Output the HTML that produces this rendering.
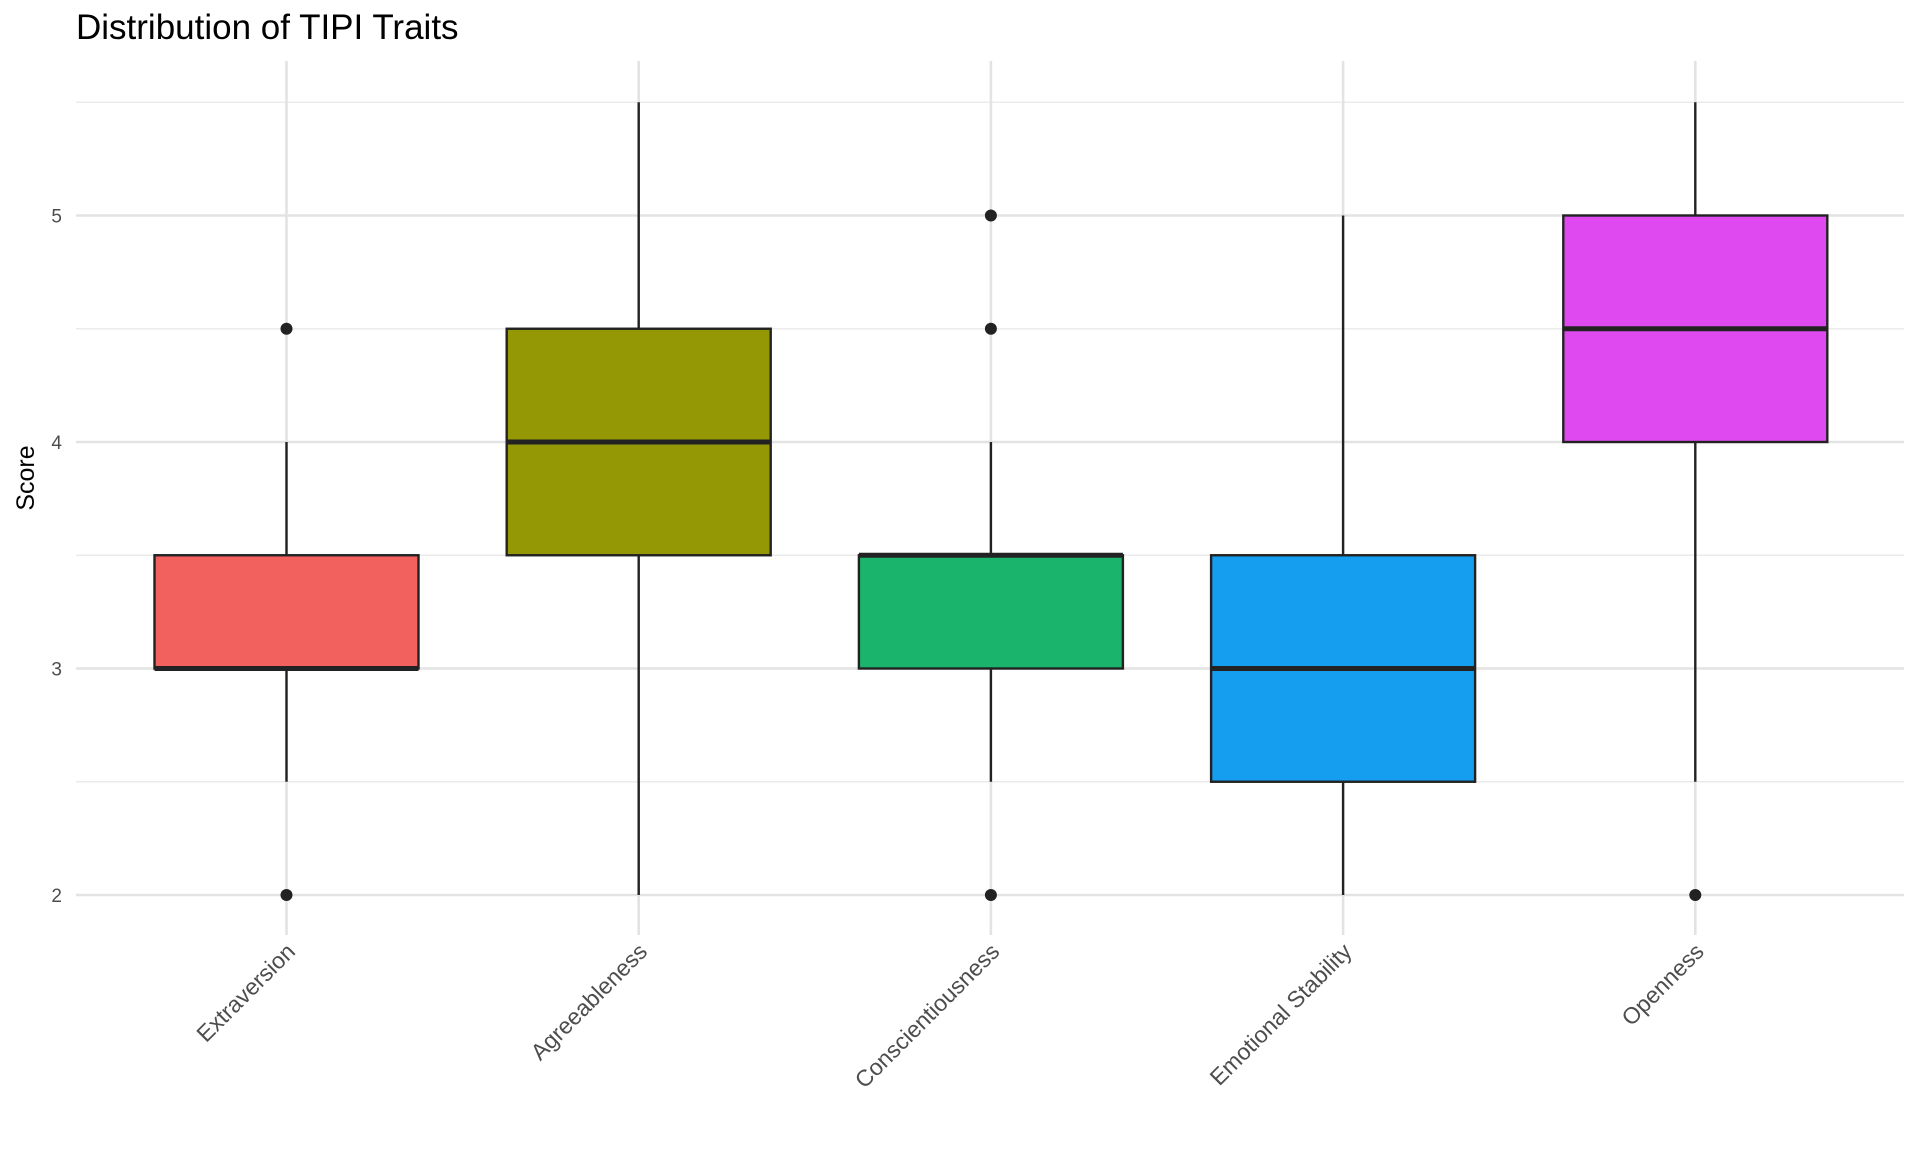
<!DOCTYPE html>
<html><head><meta charset="utf-8"><style>
body{margin:0;background:#fff;}
svg{display:block;font-family:"Liberation Sans",Arial,sans-serif;}
</style></head><body>
<svg id="chart" width="1920" height="1152" xmlns="http://www.w3.org/2000/svg">
<text x="76" y="39" font-size="35" fill="#000">Distribution of TIPI Traits</text>
<text transform="translate(34,478) rotate(-90)" text-anchor="middle" font-size="25" fill="#000">Score</text>
<g id="grid"></g><g id="marks"></g><g id="labels"></g>
</svg>
<script>
const categories=["Extraversion","Agreeableness","Conscientiousness","Emotional Stability","Openness"];
const q1=[3,3.5,3,2.5,4];
const med=[3,4,3.5,3,4.5];
const q3=[3.5,4.5,3.5,3.5,5];
const wlo=[2.5,2,2.5,2,2.5];
const whi=[4,5.5,4,5,5.5];
const outliers=[[2,4.5],[],[2,4.5,5],[],[2]];
const colors=["#F2615D","#939804","#1AB46C","#159EF0","#DF4AF0"];
const yTicks=[2,3,4,5];
const yMinor=[2.5,3.5,4.5,5.5];
const NS="http://www.w3.org/2000/svg";
const y=v=>895-(v-2)*226.5;
const x=i=>286.5+i*352.2;
const bw=264;
function mk(t,a,p){const e=document.createElementNS(NS,t);for(const k in a)e.setAttribute(k,a[k]);p.appendChild(e);return e;}
const G=document.getElementById('grid'),M=document.getElementById('marks'),L=document.getElementById('labels');
yMinor.forEach(v=>{const e=mk('line',{x1:76,x2:1904,y1:y(v),y2:y(v),stroke:'#ebebeb','stroke-width':1.6},G);

});
yTicks.forEach(v=>{const e=mk('line',{x1:76,x2:1904,y1:y(v),y2:y(v),stroke:'#e3e3e3','stroke-width':2.6},G);


const t=mk('text',{x:62,y:y(v)+7,'text-anchor':'end','font-size':19,fill:'#4d4d4d'},L);t.textContent=v;

});
categories.forEach((c,i)=>{const e=mk('line',{x1:x(i),x2:x(i),y1:61,y2:935,stroke:'#e3e3e3','stroke-width':2.6},G);


const g=mk('g',{},M);


mk('line',{x1:x(i),x2:x(i),y1:y(whi[i]),y2:y(q3[i]),stroke:'#222','stroke-width':2.4},g);
mk('line',{x1:x(i),x2:x(i),y1:y(q1[i]),y2:y(wlo[i]),stroke:'#222','stroke-width':2.4},g);
mk('rect',{x:x(i)-bw/2,y:y(q3[i]),width:bw,height:y(q1[i])-y(q3[i]),fill:colors[i],stroke:'#222','stroke-width':2.4},g);
mk('line',{x1:x(i)-bw/2,x2:x(i)+bw/2,y1:y(med[i]),y2:y(med[i]),stroke:'#222','stroke-width':5},g);
outliers[i].forEach(o=>{const p=mk('circle',{cx:x(i),cy:y(o),r:6,fill:'#222'},M);

});
const t=mk('text',{transform:`translate(${x(i)+10},${953}) rotate(-45)`,'text-anchor':'end','font-size':23,fill:'#4d4d4d'},L);t.textContent=c;

});
</script>
</body></html>
